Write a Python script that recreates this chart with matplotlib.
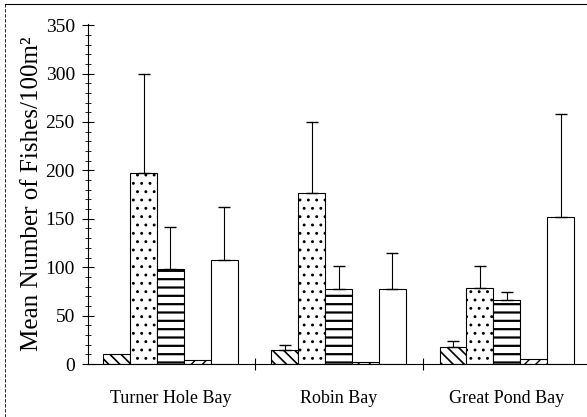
import numpy as np
import matplotlib.pyplot as plt
from matplotlib.lines import Line2D

plt.rcParams['font.family'] = ['Liberation Serif', 'DejaVu Serif']

sites = ['Turner Hole Bay', 'Robin Bay', 'Great Pond Bay']

# five bar types per site (hatched, dotted, striped, tiny, open)
means_a = [10, 15, 18]
means_b = [197, 177, 79]
means_c = [98, 78, 66]
means_d = [4, 2, 5]
means_e = [107, 77, 152]

err_a = [0, 5, 6]
err_b = [103, 73, 22]
err_c = [44, 23, 8]
err_d = [0, 0, 0]
err_e = [55, 38, 106]

yticks = [0, 50, 100, 150, 200, 250, 300, 350]

series = [(means_a, err_a, '\\\\\\', 1.2),
          (means_b, err_b, '..', 0.9),
          (means_c, err_c, '--', 1.6),
          (means_d, err_d, '///', 1.0),
          (means_e, err_e, '', 1.0)]

fig = plt.figure(figsize=(5.87, 4.17), dpi=100)
ax = fig.add_axes([0.150, 0.127, 0.848, 0.815])

x = np.arange(len(sites))
w = 0.16
for k, (m, e, h, hlw) in enumerate(series):
    pos = x + (k - 2) * w
    with plt.rc_context({'hatch.linewidth': hlw}):
        ax.bar(pos, m, width=w, color='white', edgecolor='black',
               linewidth=0.8, hatch=h)
    errs = np.array(e)
    show = errs > 0
    if show.any():
        ax.errorbar(pos[show], np.array(m)[show],
                    yerr=[np.zeros(show.sum()), errs[show]],
                    fmt='none', ecolor='black', elinewidth=0.8, capsize=4,
                    capthick=1.0)

ax.set_xlim(-0.49, 2.47)
ax.set_ylim(0, 351)
ax.set_yticks(yticks)
ax.set_yticks(np.arange(0, 351, 10), minor=True)
ax.set_xticks(x)
ax.set_xticklabels(sites, fontsize=13)
ax.set_xticks([0.5, 1.5], minor=True)
ax.tick_params(axis='x', which='major', length=0, pad=19)
ax.tick_params(axis='x', which='minor', direction='inout', length=8, width=0.8)
ax.tick_params(axis='y', which='major', direction='inout', length=9, width=0.8,
               labelsize=14, pad=5)
ax.tick_params(axis='y', which='minor', direction='inout', length=5, width=0.6)

for s in ['top', 'right']:
    ax.spines[s].set_visible(False)
ax.spines['left'].set_linewidth(0.8)
ax.spines['bottom'].set_linewidth(0.8)

ax.set_ylabel('Mean Number of Fishes/100m²', fontsize=18, labelpad=2)

# scanned page border
fig.add_artist(Line2D([0.009, 1.0], [0.99, 0.99], color='black', lw=0.8,
                      transform=fig.transFigure))
fig.add_artist(Line2D([0.009, 0.009], [0.0, 0.99], color='black', lw=0.6,
                      ls=(0, (4, 2)), transform=fig.transFigure))

fig.savefig('out.png', dpi=100)
